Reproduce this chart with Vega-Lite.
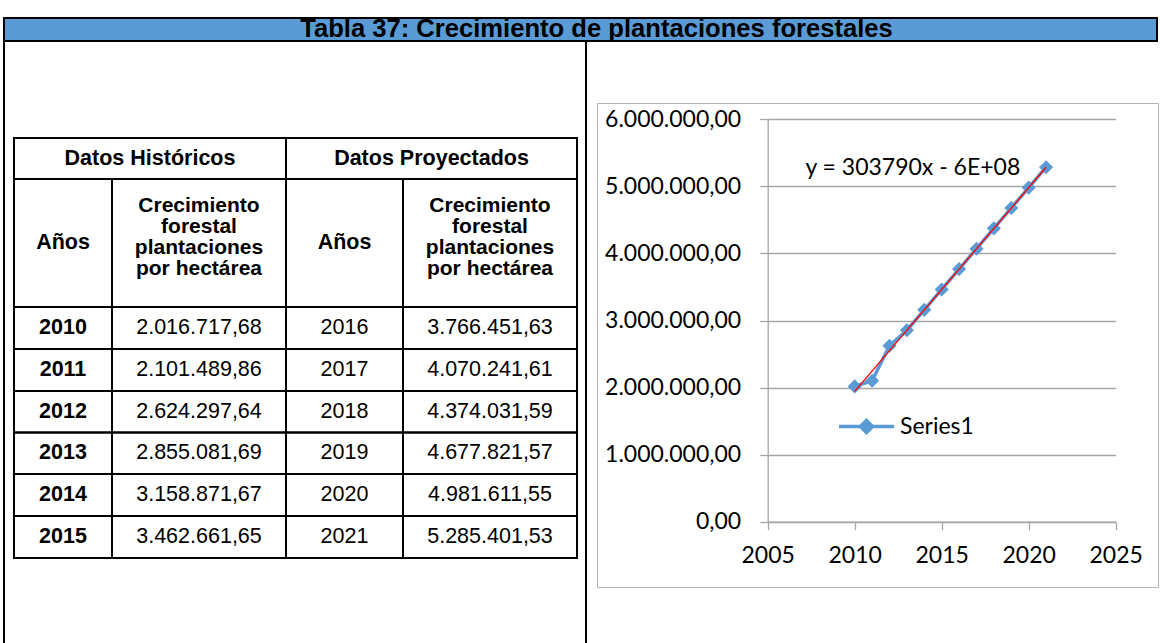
{
  "$schema": "https://vega.github.io/schema/vega-lite/v6.json",
  "padding": {"left": 3, "top": 15, "right": 0, "bottom": 0},
  "background": "white",
  "spacing": 0,
  "bounds": "flush",
  "resolve": {"scale": {"color": "independent"}, "legend": {"color": "independent"}},
  "config": {
    "view": {"stroke": null},
    "locale": {"number": {"decimal": ",", "thousands": ".", "grouping": [3], "currency": ["", " €"]}}
  },
  "datasets": {
    "serie": [
      {"anio": 2010, "valor": 2016717.68, "serie": "Series1"},
      {"anio": 2011, "valor": 2101489.86, "serie": "Series1"},
      {"anio": 2012, "valor": 2624297.64, "serie": "Series1"},
      {"anio": 2013, "valor": 2855081.69, "serie": "Series1"},
      {"anio": 2014, "valor": 3158871.67, "serie": "Series1"},
      {"anio": 2015, "valor": 3462661.65, "serie": "Series1"},
      {"anio": 2016, "valor": 3766451.63, "serie": "Series1"},
      {"anio": 2017, "valor": 4070241.61, "serie": "Series1"},
      {"anio": 2018, "valor": 4374031.59, "serie": "Series1"},
      {"anio": 2019, "valor": 4677821.57, "serie": "Series1"},
      {"anio": 2020, "valor": 4981611.55, "serie": "Series1"},
      {"anio": 2021, "valor": 5285401.53, "serie": "Series1"}
    ],
    "tabla": [
      {"c0": 0, "c1": 2, "r0": 0, "r1": 1, "tipo": "grupo", "texto": "Datos Históricos"},
      {"c0": 2, "c1": 4, "r0": 0, "r1": 1, "tipo": "grupo", "texto": "Datos Proyectados"},
      {"c0": 0, "c1": 1, "r0": 1, "r1": 2, "tipo": "encabezado", "texto": "Años"},
      {"c0": 1, "c1": 2, "r0": 1, "r1": 2, "tipo": "encabezado_multi", "texto": "Crecimiento\nforestal\nplantaciones\npor hectárea"},
      {"c0": 2, "c1": 3, "r0": 1, "r1": 2, "tipo": "encabezado", "texto": "Años"},
      {"c0": 3, "c1": 4, "r0": 1, "r1": 2, "tipo": "encabezado_multi", "texto": "Crecimiento\nforestal\nplantaciones\npor hectárea"},
      {"c0": 0, "c1": 1, "r0": 2, "r1": 3, "tipo": "anio_hist", "texto": "2010"},
      {"c0": 1, "c1": 2, "r0": 2, "r1": 3, "tipo": "valor", "texto": "2.016.717,68"},
      {"c0": 2, "c1": 3, "r0": 2, "r1": 3, "tipo": "anio_proy", "texto": "2016"},
      {"c0": 3, "c1": 4, "r0": 2, "r1": 3, "tipo": "valor", "texto": "3.766.451,63"},
      {"c0": 0, "c1": 1, "r0": 3, "r1": 4, "tipo": "anio_hist", "texto": "2011"},
      {"c0": 1, "c1": 2, "r0": 3, "r1": 4, "tipo": "valor", "texto": "2.101.489,86"},
      {"c0": 2, "c1": 3, "r0": 3, "r1": 4, "tipo": "anio_proy", "texto": "2017"},
      {"c0": 3, "c1": 4, "r0": 3, "r1": 4, "tipo": "valor", "texto": "4.070.241,61"},
      {"c0": 0, "c1": 1, "r0": 4, "r1": 5, "tipo": "anio_hist", "texto": "2012"},
      {"c0": 1, "c1": 2, "r0": 4, "r1": 5, "tipo": "valor", "texto": "2.624.297,64"},
      {"c0": 2, "c1": 3, "r0": 4, "r1": 5, "tipo": "anio_proy", "texto": "2018"},
      {"c0": 3, "c1": 4, "r0": 4, "r1": 5, "tipo": "valor", "texto": "4.374.031,59"},
      {"c0": 0, "c1": 1, "r0": 5, "r1": 6, "tipo": "anio_hist", "texto": "2013"},
      {"c0": 1, "c1": 2, "r0": 5, "r1": 6, "tipo": "valor", "texto": "2.855.081,69"},
      {"c0": 2, "c1": 3, "r0": 5, "r1": 6, "tipo": "anio_proy", "texto": "2019"},
      {"c0": 3, "c1": 4, "r0": 5, "r1": 6, "tipo": "valor", "texto": "4.677.821,57"},
      {"c0": 0, "c1": 1, "r0": 6, "r1": 7, "tipo": "anio_hist", "texto": "2014"},
      {"c0": 1, "c1": 2, "r0": 6, "r1": 7, "tipo": "valor", "texto": "3.158.871,67"},
      {"c0": 2, "c1": 3, "r0": 6, "r1": 7, "tipo": "anio_proy", "texto": "2020"},
      {"c0": 3, "c1": 4, "r0": 6, "r1": 7, "tipo": "valor", "texto": "4.981.611,55"},
      {"c0": 0, "c1": 1, "r0": 7, "r1": 8, "tipo": "anio_hist", "texto": "2015"},
      {"c0": 1, "c1": 2, "r0": 7, "r1": 8, "tipo": "valor", "texto": "3.462.661,65"},
      {"c0": 2, "c1": 3, "r0": 7, "r1": 8, "tipo": "anio_proy", "texto": "2021"},
      {"c0": 3, "c1": 4, "r0": 7, "r1": 8, "tipo": "valor", "texto": "5.285.401,53"}
    ]
  },
  "vconcat": [
    {
      "width": 1153,
      "height": 23,
      "view": {"fill": "#5B9BD5", "stroke": "black", "strokeWidth": 2},
      "data": {"values": [{"titulo": "Tabla 37: Crecimiento de plantaciones forestales"}]},
      "mark": {"type": "text", "font": "Liberation Sans", "fontSize": 25.6, "fontWeight": "bold", "color": "black", "dx": 16, "dy": -1, "baseline": "middle", "align": "center"},
      "encoding": {"text": {"field": "titulo"}}
    },
    {
      "spacing": 11,
      "bounds": "flush",
      "resolve": {"scale": {"color": "independent"}, "legend": {"color": "independent"}},
      "hconcat": [
        {
          "width": 582,
          "height": 610,
          "view": {"stroke": "black", "strokeWidth": 2},
          "data": {"name": "tabla"},
          "transform": [
            {"calculate": "(datum.c0 + datum.c1) / 2", "as": "cx"},
            {"calculate": "(datum.r0 + datum.r1) / 2", "as": "cy"}
          ],
          "resolve": {"scale": {"x": "independent"}},
          "layer": [
            {
              "layer": [
                {
                  "mark": {"type": "rect", "fill": "transparent", "stroke": "black", "strokeWidth": 2},
                  "encoding": {
                    "x": {"field": "c0", "type": "quantitative", "axis": null, "scale": {"domain": [0, 1, 2, 3, 4], "range": [10, 108, 282, 399, 573], "nice": false, "zero": false}},
                    "x2": {"field": "c1"},
                    "y": {"field": "r0", "type": "quantitative", "axis": null, "scale": {"domain": [0, 1, 2, 3, 4, 5, 6, 7, 8], "range": [97, 138, 266, 308, 350, 391.6, 433, 475, 517], "nice": false, "zero": false}},
                    "y2": {"field": "r1"}
                  }
                },
                {
                  "transform": [{"filter": "datum.tipo === 'encabezado' || datum.tipo === 'anio_hist'"}],
                  "mark": {"type": "text", "font": "Liberation Sans", "fontSize": 21.5, "fontWeight": "bold", "color": "black", "align": "center", "baseline": "middle"},
                  "encoding": {
                    "x": {"field": "cx", "type": "quantitative"},
                    "y": {"field": "cy", "type": "quantitative"},
                    "text": {"field": "texto"}
                  }
                },
                {
                  "transform": [{"filter": "datum.tipo === 'encabezado_multi'"}],
                  "mark": {"type": "text", "font": "Liberation Sans", "fontSize": 21, "fontWeight": "bold", "color": "black", "align": "center", "baseline": "middle", "lineBreak": "\n", "lineHeight": 21, "dy": -37},
                  "encoding": {
                    "x": {"field": "cx", "type": "quantitative"},
                    "y": {"field": "cy", "type": "quantitative"},
                    "text": {"field": "texto"}
                  }
                },
                {
                  "transform": [{"filter": "datum.tipo === 'anio_proy' || datum.tipo === 'valor'"}],
                  "mark": {"type": "text", "font": "Liberation Sans", "fontSize": 21.5, "color": "black", "align": "center", "baseline": "middle"},
                  "encoding": {
                    "x": {"field": "cx", "type": "quantitative"},
                    "y": {"field": "cy", "type": "quantitative"},
                    "text": {"field": "texto"}
                  }
                }
              ]
            },
            {
              "transform": [{"filter": "datum.tipo === 'grupo'"}],
              "mark": {"type": "text", "font": "Liberation Sans", "fontSize": 21.5, "fontWeight": "bold", "color": "black", "align": "center", "baseline": "middle"},
              "encoding": {
                "x": {"field": "texto", "type": "nominal", "sort": null, "axis": null, "scale": {"type": "point", "range": [146, 427.5], "padding": 0}},
                "y": {"field": "cy", "type": "quantitative"},
                "text": {"field": "texto"}
              }
            }
          ]
        },
        {
          "spacing": 0,
          "resolve": {"scale": {"color": "independent"}, "legend": {"color": "independent"}},
          "vconcat": [
            {
              "width": 560,
              "height": 61,
              "data": {"values": [{}]},
              "mark": {"type": "text"},
              "encoding": {"text": {"value": ""}}
            },
            {
              "width": 561,
              "height": 484,
              "view": {"stroke": "#B3B3B3", "strokeWidth": 1},
              "data": {"name": "serie"},
              "layer": [
                {
                  "mark": {"type": "line", "color": "#5B9BD5", "strokeWidth": 3.5},
                  "encoding": {
                    "x": {
                      "field": "anio", "type": "quantitative",
                      "scale": {"domain": [2005, 2025], "range": [170.7, 518.7], "nice": false, "zero": false},
                      "axis": {"title": null, "values": [2005, 2010, 2015, 2020, 2025], "format": "d", "offset": -65.3, "grid": false, "domainColor": "#A6A6A6", "domainWidth": 1.3, "tickColor": "#A6A6A6", "tickWidth": 1.3, "tickSize": 8, "labelFont": "Lato", "labelFontSize": 23, "labelColor": "black", "labelPadding": 15, "labelFlush": false, "labelOverlap": false}
                    },
                    "y": {
                      "field": "valor", "type": "quantitative",
                      "scale": {"domain": [0, 6000000], "range": [418.7, 16.3], "nice": false, "zero": false},
                      "axis": {"title": null, "values": [0, 1000000, 2000000, 3000000, 4000000, 5000000, 6000000], "format": ",.2f", "offset": -170.7, "grid": true, "gridColor": "#A6A6A6", "gridWidth": 1.3, "domainColor": "#A6A6A6", "domainWidth": 1.3, "tickColor": "#A6A6A6", "tickWidth": 1.3, "tickSize": 8, "labelFont": "Lato", "labelFontSize": 23, "labelColor": "black", "labelPadding": 19, "labelOverlap": false}
                    },
                    "color": {
                      "field": "serie", "type": "nominal",
                      "scale": {"range": ["#5B9BD5"]},
                      "legend": {"title": null, "orient": "none", "legendX": 240, "legendY": 294, "symbolType": "M-1,0H1M0,-0.22L0.22,0L0,0.22L-0.22,0Z", "symbolSize": 3025, "symbolStrokeWidth": 3.5, "symbolFillColor": "#5B9BD5", "symbolStrokeColor": "#5B9BD5", "labelFont": "Lato", "labelFontSize": 23, "labelColor": "black", "labelOffset": 4, "padding": 0}
                    }
                  }
                },
                {
                  "mark": {"type": "point", "shape": "diamond", "filled": true, "size": 200, "color": "#5B9BD5", "opacity": 1},
                  "encoding": {
                    "x": {"field": "anio", "type": "quantitative"},
                    "y": {"field": "valor", "type": "quantitative"}
                  }
                },
                {
                  "transform": [{"regression": "valor", "on": "anio"}],
                  "mark": {"type": "line", "color": "#FF0000", "strokeWidth": 1.3},
                  "encoding": {
                    "x": {"field": "anio", "type": "quantitative"},
                    "y": {"field": "valor", "type": "quantitative"}
                  }
                },
                {
                  "data": {"values": [{"ecuacion": "y = 303790x - 6E+08"}]},
                  "mark": {"type": "text", "font": "Lato", "fontSize": 23, "color": "black", "align": "center", "baseline": "middle"},
                  "encoding": {
                    "x": {"datum": 2013.34},
                    "y": {"datum": 5274000},
                    "text": {"field": "ecuacion"}
                  }
                }
              ]
            }
          ]
        }
      ]
    }
  ]
}
